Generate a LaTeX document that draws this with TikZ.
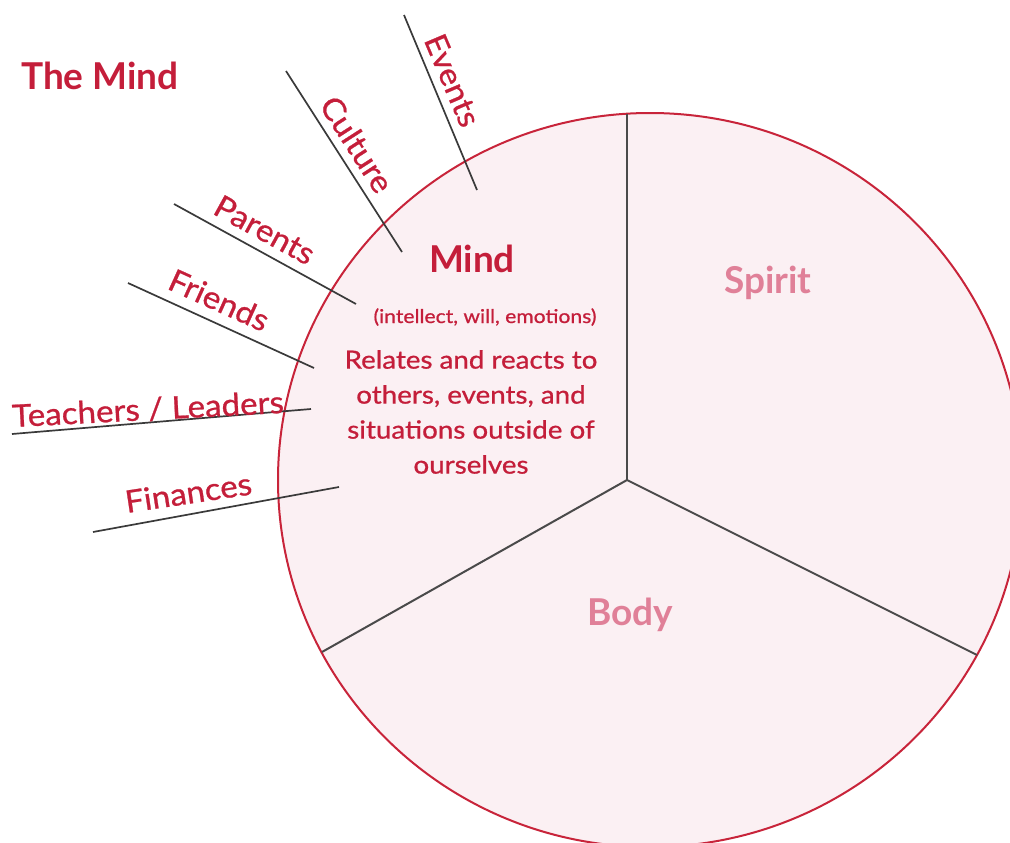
\documentclass[tikz,border=0pt]{standalone}
\usepackage{fontspec}
\setmainfont{Lato}
\newfontfamily\medfont{Lato}[FakeBold=0.8, FakeStretch=1.07]
\newfontfamily\bodyfont{Lato}[FakeBold=0.8, FakeStretch=1.11]
\definecolor{mindred}{HTML}{C41E3A}
\definecolor{softpink}{HTML}{E08098}
\definecolor{discfill}{HTML}{FBF0F3}
\definecolor{rimred}{HTML}{C8243A}
\definecolor{spoke}{HTML}{4A4A4A}
\definecolor{leader}{HTML}{3A3A3A}
\tikzset{
  rim/.style={draw=rimred, line width=2pt, fill=discfill},
  spokeline/.style={draw=spoke, line width=2pt},
  leaderline/.style={draw=leader, line width=1.7pt},
  influence/.style={inner sep=0pt, anchor=base, text=mindred,
    font=\medfont\fontsize{31}{37}\selectfont},
  title/.style={inner sep=0pt, anchor=base, text=mindred,
    font=\bfseries\fontsize{37}{44}\selectfont},
  part/.style={inner sep=0pt, anchor=base, text=softpink,
    font=\bfseries\fontsize{37}{44}\selectfont},
}
\begin{document}
\begin{tikzpicture}[x=1pt,y=-1pt]
\useasboundingbox (0,0) rectangle (1010,843);
\clip (0,0) rectangle (1010,843);

% the disc and its three parts
\draw[rim] (650,480) ellipse [x radius=372, y radius=367];
\coordinate (hub) at (627,480);
\coordinate (top) at (627,113.7);
\coordinate (lower left) at (322,652);
\coordinate (lower right) at (977,655);
\draw[spokeline] (hub) -- (top);
\draw[spokeline] (hub) -- (lower left);
\draw[spokeline] (hub) -- (lower right);

% leader lines of the outside influences
\coordinate (e1) at (404,15);  \coordinate (e2) at (477,190);
\coordinate (c1) at (286,71);  \coordinate (c2) at (402,252);
\coordinate (p1) at (174,204); \coordinate (p2) at (356,304);
\coordinate (f1) at (128,283); \coordinate (f2) at (314,368);
\coordinate (t1) at (12,434);  \coordinate (t2) at (311,409);
\coordinate (n1) at (93,532);  \coordinate (n2) at (339,487);
\draw[leaderline] (e1) -- (e2);
\draw[leaderline] (c1) -- (c2);
\draw[leaderline] (p1) -- (p2);
\draw[leaderline] (f1) -- (f2);
\draw[leaderline] (t1) -- (t2);
\draw[leaderline] (n1) -- (n2);

% influence labels
\node[influence, rotate=-67]   (events)   at (442.5,84.6)  {Events};
\node[influence, rotate=-57.3] (culture)  at (347.5,150.4) {Culture};
\node[influence, rotate=-28.8] (parents)  at (259.4,239.5) {Parents};
\node[influence, rotate=-24.4] (friends)  at (214.5,310.3) {Friends};
\node[influence, rotate=3]     (teachers) at (148.5,420)   {Teachers / Leaders};
\node[influence, rotate=8.5]   (finances) at (190,503.6)   {Finances};

% titles and texts
\node[title, anchor=base west] (heading) at (21,89) {The Mind};
\node[title] (mind) at (472,272) {Mind};
\node[inner sep=0pt, anchor=base, text=mindred,
  font=\bodyfont\fontsize{19}{23}\selectfont] (faculties) at (485,323)
  {(intellect, will, emotions)};
\node[inner sep=0pt, text=mindred, align=center,
  font=\bodyfont\fontsize{25}{35}\selectfont] (relates) at (471,412)
  {Relates and reacts to\\others, events, and\\situations outside of\\ourselves};
\node[part] (spirit) at (768,293) {Spirit};
\node[part] (body) at (630,625) {Body};
\end{tikzpicture}
\end{document}
